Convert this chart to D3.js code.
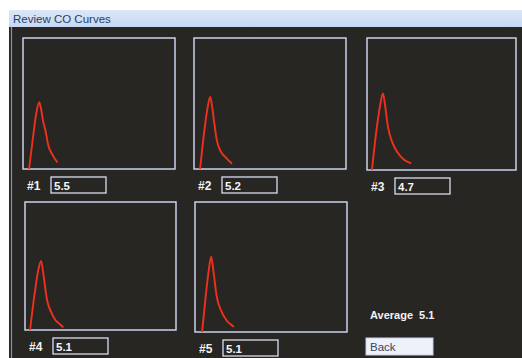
<!DOCTYPE html>
<html>
<head>
<meta charset="utf-8">
<script src="https://cdn.jsdelivr.net/npm/d3@7"></script>
<style>
  body { margin: 0; background: #ffffff; }
  svg { display: block; font-family: "Liberation Sans", Arial, sans-serif; }
</style>
</head>
<body>
<svg id="chart" width="522" height="358"></svg>
<script>
// curve labels and cardiac output values
var curveNames = ["#1", "#2", "#3", "#4", "#5"];
var coValues = [5.5, 5.2, 4.7, 5.1, 5.1];
var averageValue = 5.1;

// time (s) of each sample, and normalised height of the curve for each run
var curve1T = [1.2, 2.0, 2.6, 3.2, 3.6, 4.0, 4.4, 5.0, 5.8, 6.8];
var curve1V = [0.00, 0.25, 0.42, 0.51, 0.45, 0.36, 0.30, 0.18, 0.11, 0.05];
var curve2T = [1.2, 2.0, 2.6, 3.2, 3.6, 4.0, 4.5, 5.2, 6.2, 7.5];
var curve2V = [0.00, 0.28, 0.45, 0.55, 0.47, 0.35, 0.22, 0.14, 0.09, 0.04];
var curve3T = [1.0, 1.9, 2.6, 3.2, 3.6, 4.2, 5.2, 6.2, 7.4, 8.9];
var curve3V = [0.00, 0.30, 0.48, 0.58, 0.50, 0.33, 0.20, 0.13, 0.08, 0.05];
var curve4T = [1.0, 1.9, 2.6, 3.2, 3.6, 4.4, 5.2, 6.0, 6.8, 7.6];
var curve4V = [0.00, 0.28, 0.46, 0.54, 0.45, 0.23, 0.14, 0.08, 0.05, 0.02];
var curve5T = [1.4, 2.1, 2.7, 3.2, 3.6, 4.3, 5.2, 6.2, 7.0, 7.7];
var curve5V = [0.00, 0.27, 0.47, 0.58, 0.48, 0.27, 0.16, 0.09, 0.06, 0.04];

var curvesT = [curve1T, curve2T, curve3T, curve4T, curve5T];
var curvesV = [curve1V, curve2V, curve3V, curve4V, curve5V];

const svg = d3.select("#chart");

// screen background + title bar
svg.append("rect").attr("x", 9).attr("y", 10).attr("width", 513).attr("height", 348)
    .attr("fill", "#282623");
svg.append("line").attr("x1", 11.5).attr("x2", 11.5).attr("y1", 27).attr("y2", 358)
    .attr("stroke", "#7d8fc4").attr("stroke-width", 1.2);

const grad = svg.append("defs").append("linearGradient").attr("id", "titlebar")
    .attr("x1", 0).attr("x2", 0).attr("y1", 0).attr("y2", 1);
grad.append("stop").attr("offset", 0).attr("stop-color", "#dbe7f8");
grad.append("stop").attr("offset", 1).attr("stop-color", "#c5d8f2");
svg.append("rect").attr("x", 9).attr("y", 10).attr("width", 513).attr("height", 17)
    .attr("fill", "url(#titlebar)");
svg.append("text").attr("x", 13).attr("y", 22.5)
    .attr("font-size", 11.5).attr("fill", "#2b3d63")
    .text("Review CO Curves");

// panel layout
var panels = [
    { x: 23, y: 38, w: 152, h: 131 },
    { x: 194, y: 38, w: 152, h: 131 },
    { x: 367, y: 38, w: 149, h: 132 },
    { x: 25, y: 202, w: 151, h: 128 },
    { x: 195, y: 202, w: 152, h: 130 }
];

panels.forEach(function (p, i) {
    const g = svg.append("g").attr("transform", `translate(${p.x},${p.y})`);

    const x = d3.scaleLinear().domain([0, 30]).range([0, p.w]);
    const y = d3.scaleLinear().domain([0, 1]).range([p.h, 0]);

    g.append("rect").attr("width", p.w).attr("height", p.h)
        .attr("fill", "none").attr("stroke", "#c9d2ec").attr("stroke-width", 1.5);

    const pts = curvesT[i].map((t, k) => [t, curvesV[i][k]]);
    const line = d3.line()
        .x(d => x(d[0]))
        .y(d => y(d[1]))
        .curve(d3.curveMonotoneX);

    g.append("path").datum(pts)
        .attr("d", line)
        .attr("fill", "none")
        .attr("stroke", "#f0301c")
        .attr("stroke-width", 1.9);

    // label + value box
    const lg = svg.append("g").attr("transform", `translate(${p.x},${p.y + p.h})`);
    lg.append("text").attr("x", 4).attr("y", 20.5)
        .attr("font-size", 12).attr("font-weight", "bold").attr("fill", "#f2f2f4")
        .text(curveNames[i]);
    lg.append("rect").attr("x", 28).attr("y", 8).attr("width", 55).attr("height", 16)
        .attr("fill", "#282623").attr("stroke", "#d8def2").attr("stroke-width", 1.3);
    lg.append("text").attr("x", 31).attr("y", 20.5)
        .attr("font-size", 11.5).attr("font-weight", "bold").attr("fill", "#f4f4f8")
        .text(coValues[i].toFixed(1));
});

// average + back button
svg.append("text").attr("x", 370).attr("y", 319)
    .attr("font-size", 11).attr("font-weight", "bold").attr("fill", "#f2f2f6")
    .attr("xml:space", "preserve")
    .text("Average  " + averageValue.toFixed(1));

svg.append("rect").attr("x", 366).attr("y", 338).attr("width", 67).attr("height", 17)
    .attr("fill", "#eef0fa").attr("stroke", "#c9d2ec");
svg.append("text").attr("x", 370).attr("y", 351)
    .attr("font-size", 11.5).attr("fill", "#33456b")
    .text("Back");
</script>
</body>
</html>
